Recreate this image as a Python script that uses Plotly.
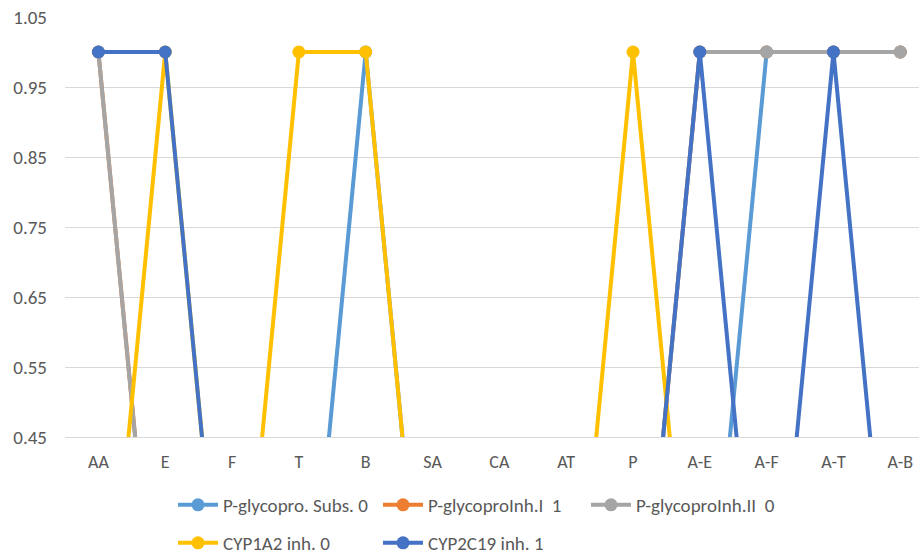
import plotly.graph_objects as go

categories = ["AA", "E", "F", "T", "B", "SA", "CA", "AT", "P", "A-E", "A-F", "A-T", "A-B"]

pgp_subs = [0, 0, 0, 0, 1, 0, 0, 0, 0, 0, 1, 1, 1]
pgp_inh1 = [1, 0, 0, 0, 0, 0, 0, 0, 0, 1, 1, 1, 1]
pgp_inh2 = [1, 0, 0, 0, 0, 0, 0, 0, 0, 1, 1, 1, 1]
cyp1a2 = [0, 1, 0, 1, 1, 0, 0, 0, 1, 0, 0, 0, 0]
cyp2c19 = [1, 1, 0, 0, 0, 0, 0, 0, 0, 1, 0, 1, 0]

y_ticks = [0.45, 0.55, 0.65, 0.75, 0.85, 0.95, 1.05]

series = [
    ("P-glycopro. Subs. 0", pgp_subs, "#5B9BD5", "legend"),
    ("P-glycoproInh.I  1", pgp_inh1, "#ED7D31", "legend2"),
    ("P-glycoproInh.II  0", pgp_inh2, "#A5A5A5", "legend3"),
    ("CYP1A2 inh. 0", cyp1a2, "#FFC000", "legend4"),
    ("CYP2C19 inh. 1", cyp2c19, "#4472C4", "legend5"),
]

FONT = "Carlito, Calibri, Lato, sans-serif"
W, H = 919, 555

fig = go.Figure()
for name, vals, color, lg in series:
    fig.add_trace(go.Scatter(
        x=categories, y=vals, name=name, mode="lines+markers",
        line=dict(color=color, width=4),
        marker=dict(color=color, size=13),
        legend=lg, showlegend=True,
    ))

def leg(px, py):
    return dict(
        xref="container", yref="container",
        x=px / W, y=1 - py / H, xanchor="left", yanchor="middle",
        orientation="h", bgcolor="rgba(0,0,0,0)", borderwidth=0,
        font=dict(family=FONT, size=19, color="#595959"),
        itemwidth=40, visible=True,
    )

fig.update_layout(
    width=W, height=H,
    showlegend=True,
    margin=dict(l=65, r=0, t=17, b=118),
    plot_bgcolor="white", paper_bgcolor="white",
    font=dict(family=FONT, size=18, color="#595959"),
    legend=leg(173, 505),
    legend2=leg(378, 505),
    legend3=leg(586, 505),
    legend4=leg(173, 543),
    legend5=leg(378, 543),
    xaxis=dict(
        type="category", range=[-0.5, 12.28],
        showgrid=False, showline=True, linecolor="#D9D9D9", linewidth=1,
        ticks="", ticklabelstandoff=8,
        tickfont=dict(family=FONT, size=18, color="#595959"),
    ),
    yaxis=dict(
        range=[0.45, 1.05], tickvals=y_ticks,
        ticktext=[f"{v:.2f}" for v in y_ticks],
        showgrid=True, gridcolor="#D9D9D9", gridwidth=1,
        zeroline=False, showline=False, ticks="", ticklabelstandoff=17,
        tickfont=dict(family=FONT, size=19, color="#595959"),
    ),
)

fig.write_html(
    "out.html",
    config={"displayModeBar": False},
    post_script="document.body.style.margin='0';document.body.style.padding='0';",
)
